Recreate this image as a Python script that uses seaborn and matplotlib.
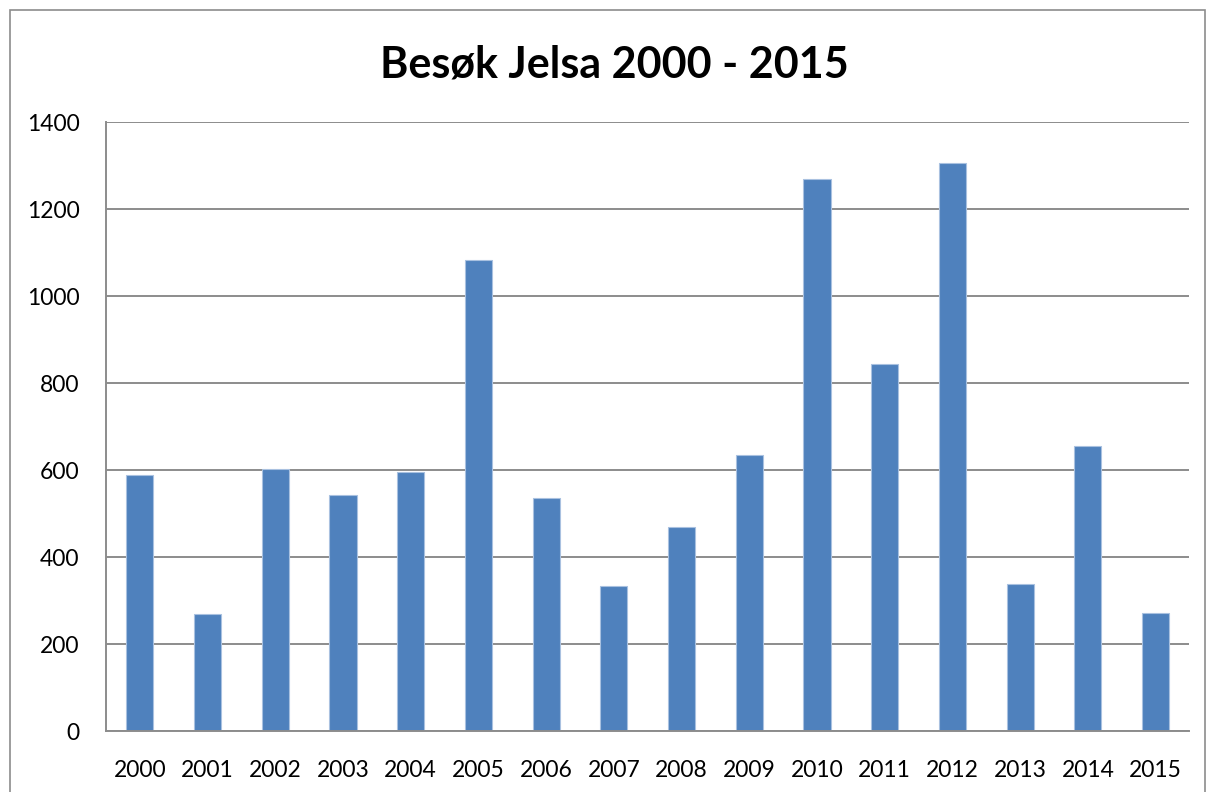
import numpy as np
import pandas as pd
import matplotlib.pyplot as plt
import matplotlib.patches as patches
import seaborn as sns

years = ["2000", "2001", "2002", "2003", "2004", "2005", "2006", "2007",
         "2008", "2009", "2010", "2011", "2012", "2013", "2014", "2015"]
visits = [589, 269, 602, 543, 596, 1083, 537, 333,
          470, 636, 1270, 844, 1306, 339, 656, 273]

df = pd.DataFrame({"year": years, "visits": visits})

sns.set_style("white")
plt.rcParams['font.family'] = ['Lato', 'DejaVu Sans']
plt.rcParams['text.color'] = "black"

fig = plt.figure(figsize=(12.15, 7.92), dpi=100)
ax = fig.add_axes([0.0872, 0.0766, 0.979 - 0.0872, 0.8456 - 0.0766])

# outer chart border
fig.patches.append(patches.Rectangle((10 / 1215, -0.05), (1205 - 10) / 1215, 1.05 - 10 / 792,
                                     transform=fig.transFigure, fill=False,
                                     edgecolor="#8c8c8c", linewidth=1.2))

sns.barplot(ax=ax, data=df, x="year", y="visits", color="#4F81BD",
            saturation=1, width=0.4, edgecolor="#a9c1e0", linewidth=0.8)

ax.set_xlim(-0.5, 15.5)
ax.set_ylim(0, 1400)
ax.set_yticks(np.arange(0, 1401, 200))
ax.yaxis.grid(True, color="#8c8c8c", linewidth=1.4)
ax.set_axisbelow(True)

for s in ["top", "right"]:
    ax.spines[s].set_visible(False)
for s in ["left", "bottom"]:
    ax.spines[s].set_color("#8c8c8c")
    ax.spines[s].set_linewidth(1.4)

ax.set_xticks(np.arange(-0.5, 16, 1), minor=True)
ax.tick_params(axis="x", which="major", length=0, labelsize=16.5, pad=21, labelcolor="black")
ax.tick_params(axis="x", which="minor", length=7, width=1.4, color="#8c8c8c")
ax.tick_params(axis="y", length=7, width=1.4, color="#8c8c8c", labelsize=16.5,
               pad=12, labelcolor="black")
ax.set_xlabel("")
ax.set_ylabel("")

fig.text(0.506, 0.918, "Besøk Jelsa 2000 - 2015", ha="center", va="center",
         fontsize=31, fontweight="bold", color="black")

fig.savefig("out.png", dpi=100)
